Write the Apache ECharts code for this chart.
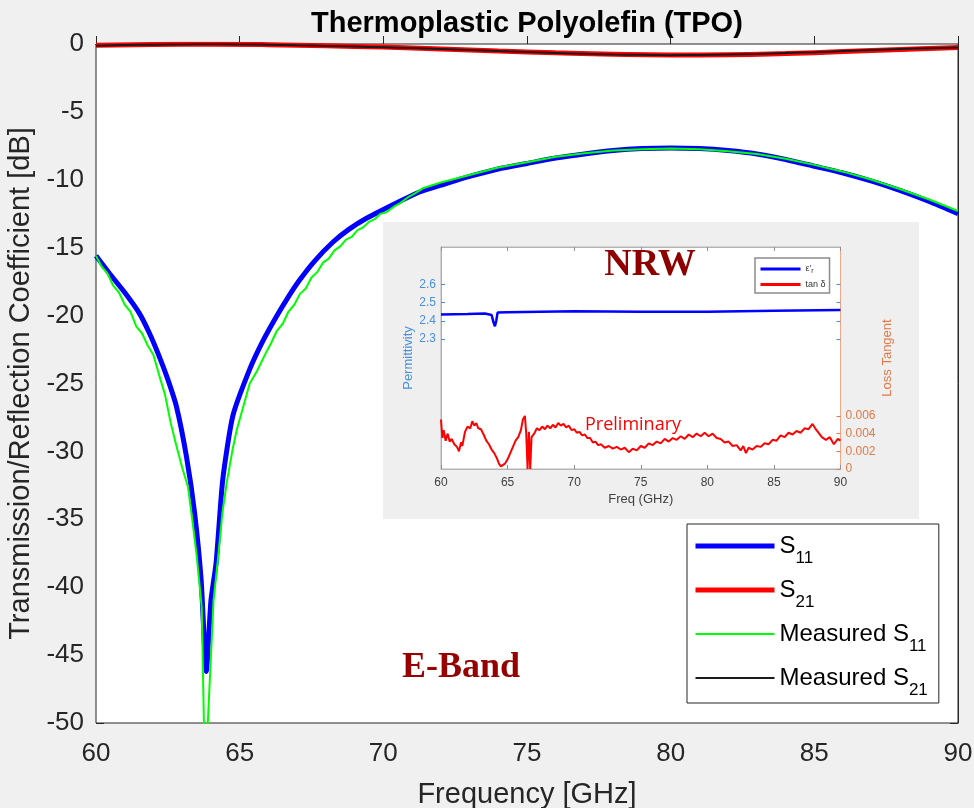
<!DOCTYPE html>
<html>
<head>
<meta charset="utf-8">
<title>Thermoplastic Polyolefin (TPO)</title>
<script src="https://cdn.jsdelivr.net/npm/echarts@6/dist/echarts.min.js"></script>
<style>
  html, body { margin: 0; padding: 0; background: #f0f0f0; }
  #main { width: 974px; height: 808px; }
</style>
</head>
<body>
<div id="main"></div>
<script>
// Simulated S11 (dB)
var s11Freq = [60, 60.47, 61, 61.5, 61.86, 62.2, 62.5, 62.8, 63.15, 63.43, 63.66, 63.84, 64.0, 64.18, 64.41, 64.76, 65.34, 65.8, 66.27, 66.7, 67.08, 67.6, 68.24, 68.8, 69.4, 70.56, 71.26, 72, 73, 74, 75, 76, 77, 78, 79, 80, 81, 82, 83, 84, 85, 86, 87, 88, 89, 90];
var s11Sim = [-15.6, -16.9, -18.3, -19.8, -21.3, -23.0, -24.7, -26.7, -30.4, -34.5, -39.5, -46.2, -41.0, -38.2, -32.1, -27.4, -24.0, -21.9, -20.1, -18.6, -17.4, -16.0, -14.6, -13.65, -12.85, -11.6, -10.9, -10.4, -9.75, -9.2, -8.8, -8.4, -8.1, -7.85, -7.7, -7.65, -7.7, -7.85, -8.1, -8.5, -9.0, -9.5, -10.1, -10.8, -11.6, -12.5];

// Simulated S21 (dB)
var s21Freq = [60, 62, 64, 66, 68, 70, 72, 74, 76, 78, 80, 82, 84, 86, 88, 90];
var s21Sim = [-0.1, -0.04, -0.02, -0.05, -0.13, -0.23, -0.36, -0.51, -0.65, -0.76, -0.81, -0.79, -0.7, -0.56, -0.41, -0.26];

// Measured S11 (dB)
var measS11Freq = [60, 60.2, 60.4, 60.6, 60.8, 61.0, 61.2, 61.4, 61.6, 61.8, 62.0, 62.2, 62.4, 62.6, 62.8, 63.0, 63.2, 63.35, 63.5, 63.68, 63.76, 63.82, 63.88, 64.09, 64.25, 64.4, 64.55, 64.75, 64.9, 65.1, 65.35, 65.6, 65.9, 66.1, 66.3, 66.5, 66.7, 66.9, 67.1, 67.3, 67.5, 67.7, 67.9, 68.1, 68.3, 68.5, 68.7, 68.9, 69.1, 69.3, 69.5, 69.7, 69.9, 70.1, 70.35, 70.6, 70.85, 71.1, 71.4, 71.7, 72, 73, 74, 75, 76, 77, 78, 79, 80, 81, 82, 83, 84, 85, 86, 87, 88, 89, 90];
var measS11 = [-15.6, -16.4, -16.9, -17.8, -18.3, -19.2, -19.7, -20.8, -21.3, -22.2, -22.9, -24.4, -25.8, -27.9, -29.6, -31.2, -32.6, -35.0, -37.6, -41.5, -50.5, -56, -50.5, -41.0, -37.8, -34.5, -32.3, -29.9, -28.4, -26.9, -25.0, -24.1, -22.8, -22.0, -21.1, -20.6, -19.7, -19.2, -18.4, -18.0, -17.2, -16.8, -16.1, -15.8, -15.2, -14.9, -14.4, -14.2, -13.7, -13.5, -13.1, -12.9, -12.5, -12.4, -12.0, -11.7, -11.3, -11.0, -10.6, -10.4, -10.2, -9.65, -9.1, -8.7, -8.3, -8.05, -7.85, -7.75, -7.7, -7.75, -7.9, -8.1, -8.45, -8.9, -9.4, -10.0, -10.7, -11.45, -12.3];

// Measured S21 (dB)
var measS21Freq = [60, 61, 62, 63, 64, 65, 66, 67, 68, 69, 70, 71, 72, 73, 74, 75, 76, 77, 78, 79, 80, 81, 82, 83, 84, 85, 86, 87, 88, 89, 90];
var measS21 = [-0.12, -0.08, -0.05, -0.03, -0.02, -0.03, -0.06, -0.1, -0.14, -0.19, -0.24, -0.3, -0.37, -0.44, -0.52, -0.59, -0.66, -0.72, -0.77, -0.8, -0.82, -0.81, -0.78, -0.73, -0.66, -0.6, -0.52, -0.44, -0.37, -0.31, -0.25];

// Inset (NRW): permittivity
var epsFreq = [60, 62, 63.3, 63.8, 63.95, 64.05, 64.15, 64.25, 65, 70, 75, 80, 85, 90];
var epsR = [2.435, 2.437, 2.44, 2.432, 2.39, 2.37, 2.4, 2.445, 2.447, 2.452, 2.45, 2.45, 2.455, 2.46];

// Inset (NRW): loss tangent
var tanFreq = [60.0, 60.1, 60.2, 60.35, 60.5, 60.65, 60.8, 61.0, 61.2, 61.35, 61.5, 61.6, 61.8, 62.0, 62.2, 62.35, 62.5, 62.65, 62.8, 63.0, 63.2, 63.4, 63.6, 63.8, 64.0, 64.2, 64.35, 64.5, 64.65, 64.8, 65.0, 65.2, 65.4, 65.6, 65.8, 66.0, 66.15, 66.3, 66.4, 66.5, 66.6, 66.7, 66.8, 67.0, 67.2, 67.4, 67.6, 67.8, 68.0, 68.2, 68.4, 68.6, 68.8, 69.0, 69.2, 69.4, 69.6, 69.8, 70.0, 70.2, 70.4, 70.6, 70.8, 71.0, 71.2, 71.4, 71.6, 71.8, 72.0, 72.3, 72.6, 72.9, 73.2, 73.5, 73.8, 74.1, 74.4, 74.7, 75.0, 75.3, 75.6, 75.9, 76.2, 76.5, 76.8, 77.1, 77.4, 77.7, 78.0, 78.3, 78.6, 78.9, 79.2, 79.5, 79.8, 80.1, 80.4, 80.7, 81.0, 81.3, 81.6, 81.9, 82.2, 82.5, 82.7, 82.9, 83.1, 83.4, 83.7, 84.0, 84.3, 84.6, 84.9, 85.2, 85.5, 85.8, 86.1, 86.4, 86.7, 87.0, 87.3, 87.6, 87.9, 88.1, 88.3, 88.6, 88.9, 89.2, 89.5, 89.8, 90.0];
var tanD = [0.0056, 0.0035, 0.0044, 0.0032, 0.0040, 0.0031, 0.0034, 0.0028, 0.0025, 0.0020, 0.0030, 0.0026, 0.0042, 0.0048, 0.0046, 0.0054, 0.0049, 0.0052, 0.0046, 0.0045, 0.0039, 0.0032, 0.0028, 0.0022, 0.0018, 0.0012, 0.0006, 0.0003, 0.0002, 0.0006, 0.0011, 0.0018, 0.0025, 0.0032, 0.0036, 0.0044, 0.0056, 0.0060, 0.0040, 0.0000, 0.0042, 0.0000, 0.0036, 0.0040, 0.0046, 0.0044, 0.0048, 0.0045, 0.0049, 0.0046, 0.0050, 0.0047, 0.0052, 0.0049, 0.0051, 0.0047, 0.0049, 0.0044, 0.0045, 0.0041, 0.0042, 0.0038, 0.0039, 0.0035, 0.0035, 0.0030, 0.0031, 0.0027, 0.0028, 0.0024, 0.0026, 0.0023, 0.0025, 0.0022, 0.0024, 0.0019, 0.0023, 0.0021, 0.0026, 0.0024, 0.0029, 0.0027, 0.0031, 0.0029, 0.0034, 0.0031, 0.0035, 0.0033, 0.0037, 0.0034, 0.0039, 0.0036, 0.0040, 0.0037, 0.0041, 0.0037, 0.0040, 0.0035, 0.0034, 0.0030, 0.0031, 0.0026, 0.0027, 0.0021, 0.0026, 0.0018, 0.0024, 0.0022, 0.0026, 0.0025, 0.0029, 0.0028, 0.0033, 0.0032, 0.0038, 0.0036, 0.0041, 0.0039, 0.0043, 0.0041, 0.0046, 0.0045, 0.0051, 0.0046, 0.0042, 0.0036, 0.0033, 0.0036, 0.0028, 0.0034, 0.0032];

// Inset tick labels
var permTicks = [2.3, 2.4, 2.5, 2.6];
var lossTicks = [0, 0.002, 0.004, 0.006];

var FONT = '"Liberation Sans", Arial, sans-serif';
var AX = '#262626';
var PERM = '#4a90d9';
var LOSS = '#e07a4a';

function pairs(xs, ys) {
    return xs.map(function (x, i) { return [x, ys[i]]; });
}

var myChart = echarts.init(document.getElementById('main'));

var option = {
    backgroundColor: '#f0f0f0',
    animation: false,
    title: {
        text: 'Thermoplastic Polyolefin (TPO)',
        left: 311,
        top: 9,
        padding: 0,
        textStyle: { fontSize: 29, fontWeight: 'bold', color: '#000', fontFamily: FONT }
    },
    legend: [
        {
            orient: 'vertical',
            left: 687,
            top: 524,
            data: [
                { name: 'S11', lineStyle: { width: 5 } },
                { name: 'S21', lineStyle: { width: 5 } },
                { name: 'Measured S11', lineStyle: { width: 2 } },
                { name: 'Measured S21', lineStyle: { width: 2 } }
            ],
            itemWidth: 79,
            itemHeight: 10,
            itemGap: 2,
            padding: [1, 11, 4, 6],
            backgroundColor: '#fff',
            borderColor: AX,
            borderWidth: 1,
            selectedMode: false,
            itemStyle: { opacity: 0 },
            z: 10,
            formatter: function (name) {
                var m = name.match(/^(.*S)(\d\d)$/);
                return '{m|' + m[1] + '}{s|' + m[2] + '}';
            },
            textStyle: {
                rich: {
                    m: { fontSize: 24, lineHeight: 24, color: '#000', fontFamily: FONT },
                    s: { fontSize: 17, lineHeight: 17, color: '#000', fontFamily: FONT, padding: [25, 0, 0, 0] }
                }
            }
        },
        {
            orient: 'vertical',
            left: 755,
            top: 258,
            data: [
                { name: 'epsr', lineStyle: { width: 3 } },
                { name: 'tand', lineStyle: { width: 3 } }
            ],
            itemWidth: 40,
            itemHeight: 6,
            itemGap: 5,
            padding: [5, 4, 4, 4],
            backgroundColor: '#fff',
            borderColor: '#8c8c8c',
            borderWidth: 1.5,
            selectedMode: false,
            itemStyle: { opacity: 0 },
            z: 10,
            formatter: function (name) {
                return name === 'epsr' ? '{a|\u03b5\u2032}{c|r}' : '{a|tan \u03b4}';
            },
            textStyle: {
                rich: {
                    a: { fontSize: 9, lineHeight: 12, color: '#333', fontFamily: FONT },
                    c: { fontSize: 7, lineHeight: 7, color: '#333', fontFamily: FONT, padding: [5, 0, 0, 0] }
                }
            }
        }
    ],
    grid: [
        { left: 96, right: 16, top: 44, bottom: 85, outerBoundsMode: 'none', show: true, backgroundColor: '#fff', borderColor: AX, borderWidth: 1, z: 1 },
        { left: 441, right: 133.5, top: 247, bottom: 339, outerBoundsMode: 'none', show: true, backgroundColor: '#fff', borderColor: '#b4b4b4', borderWidth: 1, z: 6 },
        { left: 441, right: 133.5, top: 247, bottom: 339, outerBoundsMode: 'none', show: false, z: 7 }
    ],
    xAxis: [
        {
            gridIndex: 0, type: 'value', min: 60, max: 90, interval: 5, position: 'bottom',
            axisLine: { show: true, lineStyle: { color: AX } },
            axisTick: { inside: true, length: 8, lineStyle: { color: AX } },
            axisLabel: { fontSize: 26, color: AX, margin: 18, fontFamily: FONT },
            splitLine: { show: false },
            name: 'Frequency [GHz]', nameLocation: 'middle', nameGap: 57,
            nameTextStyle: { fontSize: 29, color: AX, fontFamily: FONT }
        },
        {
            gridIndex: 0, type: 'value', min: 60, max: 90, interval: 5, position: 'top',
            axisLine: { show: true, lineStyle: { color: AX } },
            axisTick: { inside: true, length: 8, lineStyle: { color: AX } },
            axisLabel: { show: false },
            splitLine: { show: false }
        },
        {
            gridIndex: 1, type: 'value', min: 60, max: 90, interval: 5, position: 'bottom', z: 7,
            axisLine: { show: true, lineStyle: { color: '#b4b4b4' } },
            axisTick: { inside: true, length: 4, lineStyle: { color: '#909090' } },
            axisLabel: { fontSize: 12, color: '#404040', margin: 8, fontFamily: FONT },
            splitLine: { show: false },
            name: 'Freq (GHz)', nameLocation: 'middle', nameGap: 24,
            nameTextStyle: { fontSize: 13, color: '#404040', fontFamily: FONT }
        },
        {
            gridIndex: 1, type: 'value', min: 60, max: 90, interval: 5, position: 'top', z: 7,
            axisLine: { show: true, lineStyle: { color: '#b4b4b4' } },
            axisTick: { inside: true, length: 4, lineStyle: { color: '#909090' } },
            axisLabel: { show: false },
            splitLine: { show: false }
        },
        {
            gridIndex: 2, type: 'value', min: 60, max: 90, show: false
        }
    ],
    yAxis: [
        {
            gridIndex: 0, type: 'value', min: -50, max: 0, interval: 5, position: 'left',
            axisLine: { show: true, lineStyle: { color: AX } },
            axisTick: { inside: true, length: 8, lineStyle: { color: AX } },
            axisLabel: { fontSize: 26, color: AX, margin: 12, fontFamily: FONT },
            splitLine: { show: false },
            name: 'Transmission/Reflection Coefficient [dB]', nameLocation: 'middle', nameGap: 58, nameRotate: 90,
            nameTextStyle: { fontSize: 29, color: AX, fontFamily: FONT }
        },
        {
            gridIndex: 0, type: 'value', min: -50, max: 0, interval: 5, position: 'right',
            axisLine: { show: true, lineStyle: { color: AX } },
            axisTick: { inside: true, length: 8, lineStyle: { color: AX } },
            axisLabel: { show: false },
            splitLine: { show: false }
        },
        {
            gridIndex: 1, type: 'value', min: 1.587, max: 2.805, position: 'left', z: 7,
            axisLine: { show: true, lineStyle: { color: '#8ab4e0' } },
            axisTick: { inside: true, length: 4, customValues: permTicks, lineStyle: { color: PERM } },
            axisLabel: {
                customValues: permTicks, fontSize: 12, color: PERM, margin: 5, fontFamily: FONT,
                formatter: function (v) { return v.toFixed(1); }
            },
            splitLine: { show: false },
            name: 'Permittivity', nameLocation: 'middle', nameGap: 25, nameRotate: 90,
            nameTextStyle: { fontSize: 13, color: PERM, fontFamily: FONT }
        },
        {
            gridIndex: 1, type: 'value', min: 0, max: 0.0251, position: 'right', z: 7,
            axisLine: { show: true, lineStyle: { color: '#f0a888' } },
            axisTick: { inside: true, length: 4, customValues: lossTicks, lineStyle: { color: LOSS } },
            axisLabel: {
                customValues: lossTicks, fontSize: 12, color: LOSS, margin: 5, fontFamily: FONT,
                formatter: function (v) { return v === 0 ? '0' : v.toFixed(3); }
            },
            splitLine: { show: false },
            name: 'Loss Tangent', nameLocation: 'middle', nameGap: 40, nameRotate: 90,
            nameTextStyle: { fontSize: 13, color: LOSS, fontFamily: FONT }
        },
        {
            gridIndex: 2, type: 'value', min: 1.587, max: 2.805, position: 'right', z: 7,
            axisLine: { show: false },
            axisTick: { inside: true, length: 4, customValues: permTicks, lineStyle: { color: PERM } },
            axisLabel: { show: false },
            splitLine: { show: false }
        }
    ],
    graphic: [
        { type: 'rect', z: 5, silent: true, shape: { x: 383, y: 222, width: 536, height: 297 }, style: { fill: '#efefef' } },
        { type: 'text', z: 20, x: 650, y: 265, style: { text: 'NRW', font: 'bold 38px "Liberation Serif", serif', fill: '#8e0000', align: 'center', verticalAlign: 'middle' } },
        { type: 'text', z: 20, x: 633, y: 425, style: { text: 'Preliminary', font: '18px "Open Sans", sans-serif', fill: '#ff0000', align: 'center', verticalAlign: 'middle' } },
        { type: 'text', z: 3, x: 461, y: 668, style: { text: 'E-Band', font: 'bold 36px "Liberation Serif", serif', fill: '#960000', align: 'center', verticalAlign: 'middle' } }
    ],
    series: [
        {
            name: 'S11', type: 'line', xAxisIndex: 0, yAxisIndex: 0, z: 2,
            data: pairs(s11Freq, s11Sim), symbol: 'none', smooth: 0.2,
            lineStyle: { color: '#0000ff', width: 5 }, itemStyle: { color: '#0000ff' }
        },
        {
            name: 'S21', type: 'line', xAxisIndex: 0, yAxisIndex: 0, z: 2,
            data: pairs(s21Freq, s21Sim), symbol: 'none', smooth: true,
            lineStyle: { color: '#ff0000', width: 5 }, itemStyle: { color: '#ff0000' }
        },
        {
            name: 'Measured S11', type: 'line', xAxisIndex: 0, yAxisIndex: 0, z: 2,
            data: pairs(measS11Freq, measS11), symbol: 'none',
            lineStyle: { color: '#00ff00', width: 2 }, itemStyle: { color: '#00ff00' }
        },
        {
            name: 'Measured S21', type: 'line', xAxisIndex: 0, yAxisIndex: 0, z: 2,
            data: pairs(measS21Freq, measS21), symbol: 'none', smooth: true,
            lineStyle: { color: '#1a1a1a', width: 2 }, itemStyle: { color: '#1a1a1a' }
        },
        {
            name: 'epsr', type: 'line', xAxisIndex: 2, yAxisIndex: 2, z: 8,
            data: pairs(epsFreq, epsR), symbol: 'none',
            lineStyle: { color: '#0000ff', width: 2.5 }, itemStyle: { color: '#0000ff' }
        },
        {
            name: 'tand', type: 'line', xAxisIndex: 2, yAxisIndex: 3, z: 8,
            data: pairs(tanFreq, tanD), symbol: 'none',
            lineStyle: { color: '#ff0000', width: 2 }, itemStyle: { color: '#ff0000' }
        }
    ]
};

myChart.setOption(option);
</script>
</body>
</html>
